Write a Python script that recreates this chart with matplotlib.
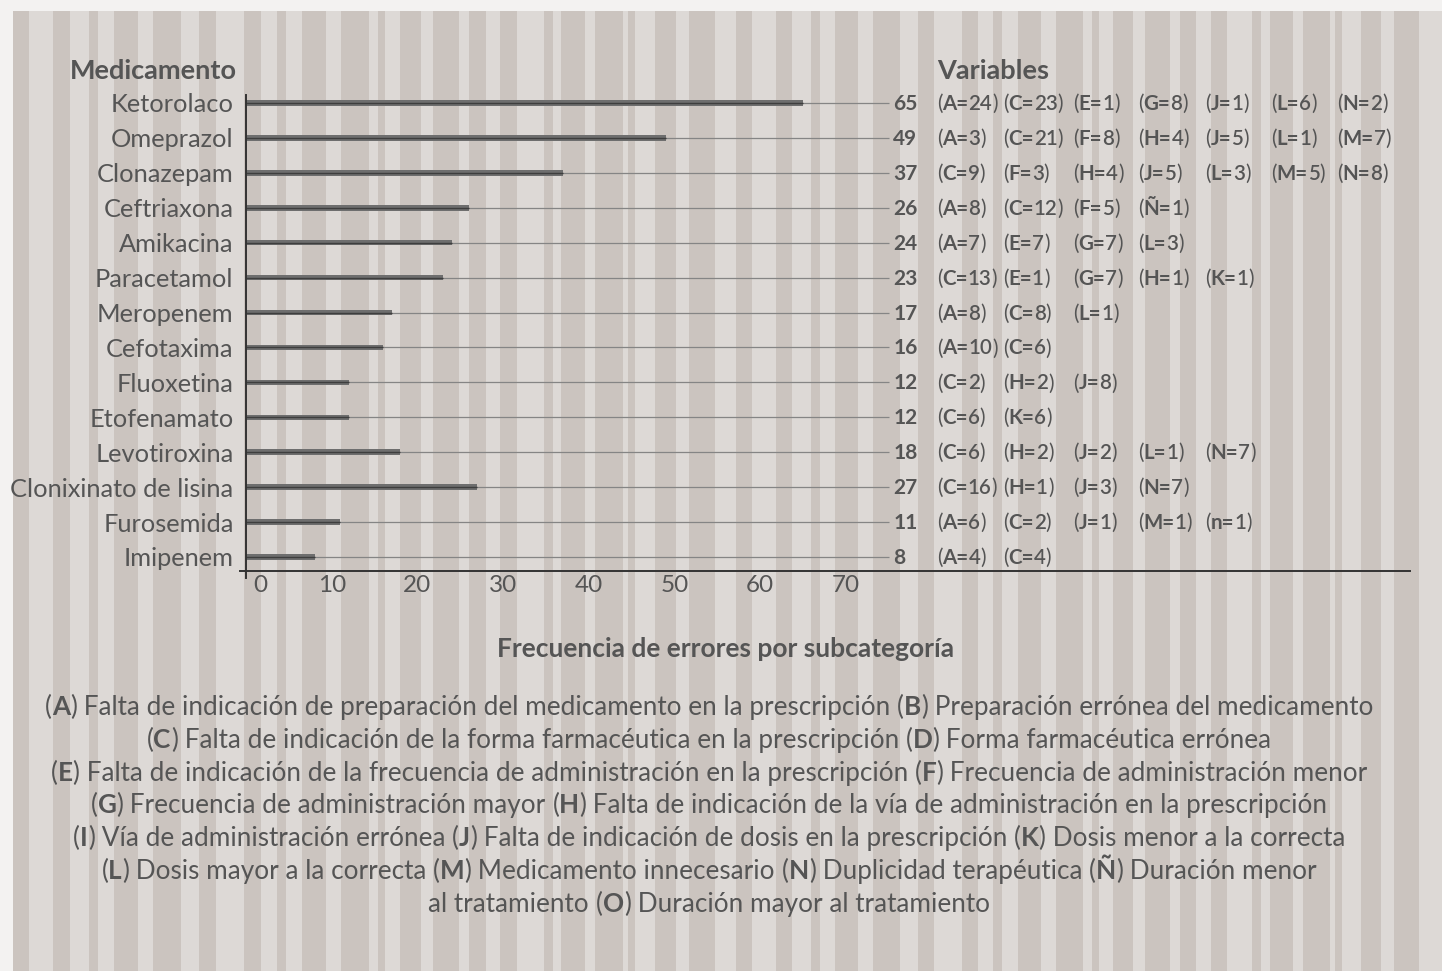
import re
import matplotlib
matplotlib.use("Agg")
import matplotlib.pyplot as plt
from matplotlib.transforms import offset_copy, ScaledTranslation

plt.rcParams['font.family'] = ['Lato', 'DejaVu Sans']

# medicamentos, total de errores y desglose por subcategoria
medicamentos = ["Ketorolaco", "Omeprazol", "Clonazepam", "Ceftriaxona", "Amikacina",
                "Paracetamol", "Meropenem", "Cefotaxima", "Fluoxetina", "Etofenamato",
                "Levotiroxina", "Clonixinato de lisina", "Furosemida", "Imipenem"]
totales = [65, 49, 37, 26, 24, 23, 17, 16, 12, 12, 18, 27, 11, 8]
subcategorias = [
    [("A", 24), ("C", 23), ("E", 1), ("G", 8), ("J", 1), ("L", 6), ("N", 2)],
    [("A", 3), ("C", 21), ("F", 8), ("H", 4), ("J", 5), ("L", 1), ("M", 7)],
    [("C", 9), ("F", 3), ("H", 4), ("J", 5), ("L", 3), ("M", 5), ("N", 8)],
    [("A", 8), ("C", 12), ("F", 5), ("Ñ", 1)],
    [("A", 7), ("E", 7), ("G", 7), ("L", 3)],
    [("C", 13), ("E", 1), ("G", 7), ("H", 1), ("K", 1)],
    [("A", 8), ("C", 8), ("L", 1)],
    [("A", 10), ("C", 6)],
    [("C", 2), ("H", 2), ("J", 8)],
    [("C", 6), ("K", 6)],
    [("C", 6), ("H", 2), ("J", 2), ("L", 1), ("N", 7)],
    [("C", 16), ("H", 1), ("J", 3), ("N", 7)],
    [("A", 6), ("C", 2), ("J", 1), ("M", 1), ("n", 1)],
    [("A", 4), ("C", 4)],
]
xticks = [0, 10, 20, 30, 40, 50, 60, 70]
leyenda = [
    "(A) Falta de indicación de preparación del medicamento en la prescripción (B) Preparación errónea del medicamento",
    "(C) Falta de indicación de la forma farmacéutica en la prescripción (D) Forma farmacéutica errónea",
    "(E) Falta de indicación de la frecuencia de administración en la prescripción (F) Frecuencia de administración menor",
    "(G) Frecuencia de administración mayor (H) Falta de indicación de la vía de administración en la prescripción",
    "(I) Vía de administración errónea (J) Falta de indicación de dosis en la prescripción (K) Dosis menor a la correcta",
    "(L) Dosis mayor a la correcta (M) Medicamento innecesario (N) Duplicidad terapéutica (Ñ) Duración menor",
    "al tratamiento (O) Duración mayor al tratamiento",
]

W, H = 1442, 971
GRIS = "#555555"
CLARO = "#ddd9d6"
OSCURO = "#cbc4bf"

fig = plt.figure(figsize=(W / 100, H / 100), dpi=100, facecolor="#f3f2f1")

# fondo a rayas verticales
bg = fig.add_axes([0, 0, 1, 1], zorder=-5)
bg.set_xlim(0, W)
bg.set_ylim(H, 0)
bg.axis("off")
bg.axvspan(13, W, ymin=0, ymax=1 - 11 / H, color=CLARO, lw=0)
rayas = [(13, 29), (53, 70), (89, 98), (114, 138), (153, 181), (199, 216), (244, 261),
         (277, 286), (302, 326), (341, 369), (378, 385), (400, 421), (433, 459), (469, 486),
         (500, 517), (544, 553), (561, 585), (595, 623), (628, 635), (655, 676), (689, 715),
         (736, 752), (776, 792), (811, 820), (835, 858), (873, 900), (918, 934), (962, 978),
         (993, 1002), (1018, 1041), (1056, 1083), (1092, 1099), (1113, 1133), (1145, 1170),
         (1180, 1196), (1211, 1227), (1252, 1261), (1270, 1293), (1303, 1330), (1335, 1342),
         (1361, 1381), (1394, 1419)]
for a, b in rayas:
    bg.axvspan(a, b, ymin=0, ymax=1 - 11 / H, color=OSCURO, lw=0)

# ejes principales: 8.57 px por unidad, 34.92 px por fila
px_u = 8.571
px_f = 34.92
left, right, top, bottom = 246, 1410, 95, 571
ax = fig.add_axes([left / W, 1 - bottom / H, (right - left) / W, (bottom - top) / H])
ax.set_xlim(0, (right - left) / px_u)
ax.set_ylim((bottom - 103) / px_f, (top - 103) / px_f)
ax.patch.set_alpha(0)
for s in ax.spines.values():
    s.set_visible(False)

filas = list(range(len(medicamentos)))
ax.hlines(filas, 0, 75, color="#858585", lw=0.9, zorder=2)
ax.barh(filas, totales, height=5.5 / px_f, color="#6e6e6e", zorder=3)
ax.hlines(filas, 0, totales, color="#3e3e3e", lw=1.0, zorder=4)

ax.axvline(0, ymin=-7 / (bottom - top), ymax=1, color="#333333", lw=1.4, clip_on=False, zorder=5)
ax.axhline(ax.get_ylim()[0], xmin=-6 / (right - left), xmax=1, color="#333333", lw=1.4,
           clip_on=False, zorder=5)

ax.set_yticks(filas, medicamentos)
ax.set_xticks(xticks, [str(v) for v in xticks])
ax.tick_params(axis="y", length=0, pad=9, labelsize=18.3, labelcolor=GRIS)
ax.tick_params(axis="x", length=0, pad=3, labelsize=17.5, labelcolor=GRIS)
lab0 = ax.get_xticklabels()[0]
lab0.set_transform(lab0.get_transform() + ScaledTranslation(14 / 100, 0, fig.dpi_scale_trans))

renderer = fig.canvas.get_renderer()


def ancho(texto, size, weight):
    t = fig.text(0, 0, "|" + texto + "|", fontsize=size, fontweight=weight)
    w1 = t.get_window_extent(renderer).width
    t.set_text("||")
    w0 = t.get_window_extent(renderer).width
    t.remove()
    return w1 - w0


def texto_mixto(segs, x, y, trans, size, ha="left"):
    anchos = [ancho(s, size, w) for s, w in segs]
    dx = 0 if ha == "left" else -sum(anchos) / 2
    for (s, w), a in zip(segs, anchos):
        fig.text(x, y, s, fontsize=size, fontweight=w, color=GRIS, va="baseline", ha="left",
                 transform=offset_copy(trans, fig=fig, x=dx, y=0, units="dots"))
        dx += a


def partir(linea):
    partes = re.split(r"\((.)\)", linea)
    segs = []
    for i, p in enumerate(partes):
        if i % 2:
            segs += [("(", "normal"), (p, "bold"), (")", "normal")]
        elif p:
            segs.append((p, "normal"))
    return segs


# totales y desglose por subcategoria
columnas = [80.6, 88.3, 96.5, 104.1, 111.9, 119.6, 127.3]
base = 7 / px_f
for i, (tot, subs) in enumerate(zip(totales, subcategorias)):
    ax.text(75.5, i + base, str(tot), fontsize=15, fontweight="bold", color=GRIS,
            va="baseline", ha="left")
    for c, (letra, n) in zip(columnas, subs):
        texto_mixto([("(", "normal"), (f"{letra}=", "bold"), (str(n), "semibold"), (")", "normal")],
                    c, i + base, ax.transData, 14.8)

ax.text(80.6, (70 - 103) / px_f + 9 / px_f, "Variables", fontsize=19.5, fontweight="bold",
        color=GRIS, va="baseline", ha="left")
ax.text(0, (70 - 103) / px_f + 9 / px_f, "Medicamento", fontsize=19.5, fontweight="bold",
        color=GRIS, va="baseline", ha="right",
        transform=offset_copy(ax.transData, fig=fig, x=-9, y=0, units="dots"))

fig.text(726 / W, 1 - 657 / H, "Frecuencia de errores por subcategoría", fontsize=19,
         fontweight="bold", color=GRIS, ha="center", va="baseline")

for k, linea in enumerate(leyenda):
    y = 1 - (715 + 32.8 * k) / H
    texto_mixto(partir(linea), 709 / W, y, fig.transFigure, 18.8, ha="center")

fig.savefig("out.png", dpi=100, facecolor=fig.get_facecolor())
